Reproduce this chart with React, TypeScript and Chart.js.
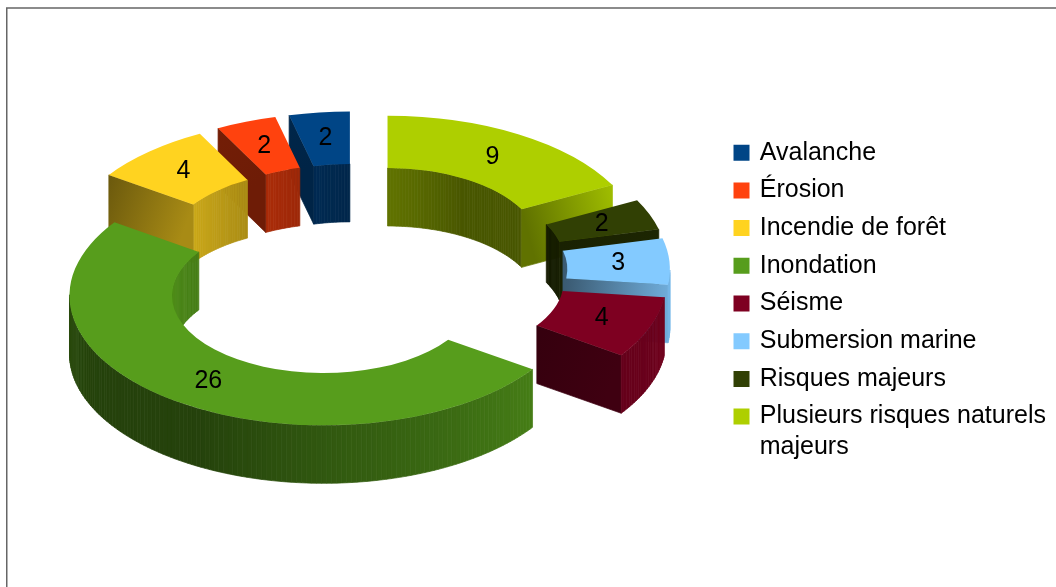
import React, { useEffect, useRef } from "react";
import { Chart, registerables } from "chart.js";

Chart.register(...registerables);

const categories: (string | string[])[] = [
  "Avalanche",
  "Érosion",
  "Incendie de forêt",
  "Inondation",
  "Séisme",
  "Submersion marine",
  "Risques majeurs",
  ["Plusieurs risques naturels", "majeurs"],
];
const values = [2, 2, 4, 26, 4, 3, 2, 9];
const colors = ["#004586", "#ff420e", "#ffd320", "#579d1c", "#7e0021", "#83caff", "#314004", "#aecf00"];
// brightness of the radial end face of each slice, at its inner and its outer end
const capInner = [0.52, 0.43, 0.66, 0.5, 0.42, 0.45, 0.52, 0.55];
const capOuter = [0.55, 0.45, 0.42, 0.5, 0.5, 0.85, 0.6, 0.92];
// brightness of a curved wall for the direction its surface faces (degrees, canvas orientation)
const shadeAngles = [-10, 0, 35, 60, 90, 120, 150, 190];
const shadeLevels = [0.95, 0.92, 0.8, 0.68, 0.56, 0.42, 0.42, 0.5];

const CX = 357;
const CY = 271;
const SQUASH = 0.51;
const DEPTH = 58;
const EXPLODE = 59;

function shadeFor(deg: number) {
  let d = ((deg % 360) + 360) % 360;
  if (d > 190) d -= 360;
  for (let i = 1; i < shadeAngles.length; i++) {
    if (d <= shadeAngles[i]) {
      const t = (d - shadeAngles[i - 1]) / (shadeAngles[i] - shadeAngles[i - 1]);
      return shadeLevels[i - 1] + t * (shadeLevels[i] - shadeLevels[i - 1]);
    }
  }
  return shadeLevels[shadeLevels.length - 1];
}

function tint(hex: string, f: number) {
  const n = parseInt(hex.slice(1), 16);
  const r = Math.round(((n >> 16) & 255) * f);
  const g = Math.round(((n >> 8) & 255) * f);
  const b = Math.round((n & 255) * f);
  return `rgb(${r},${g},${b})`;
}

const pie3d = {
  id: "pie3d",
  beforeDraw(chart: any) {
    const { ctx } = chart;
    ctx.save();
    ctx.fillStyle = "#ffffff";
    ctx.fillRect(0, 0, chart.width, chart.height);
    ctx.strokeStyle = "#666666";
    ctx.lineWidth = 1.5;
    ctx.beginPath();
    ctx.moveTo(chart.width, 8);
    ctx.lineTo(6.75, 8);
    ctx.lineTo(6.75, chart.height);
    ctx.stroke();
    ctx.restore();
  },
  beforeDatasetsDraw(chart: any) {
    const { ctx } = chart;
    const meta = chart.getDatasetMeta(0);
    const arcs = meta.data.map((el: any, i: number) => {
      const mid = (el.startAngle + el.endAngle) / 2;
      const catIndex = values.length - 1 - i;
      return {
        el,
        mid,
        catIndex,
        ox: CX + EXPLODE * Math.cos(mid),
        oy: CY + SQUASH * EXPLODE * Math.sin(mid),
      };
    });
    const order = [...arcs].sort((a: any, b: any) => Math.sin(a.mid) - Math.sin(b.mid));

    for (const a of order) {
      const { el, catIndex, ox, oy } = a;
      const color = colors[catIndex];
      const P = (r: number, ang: number, h: number) => [
        ox + r * Math.cos(ang),
        oy + SQUASH * r * Math.sin(ang) + h,
      ];
      const quad = (pts: number[][], fill: any) => {
        ctx.beginPath();
        pts.forEach((p, k) => (k ? ctx.lineTo(p[0], p[1]) : ctx.moveTo(p[0], p[1])));
        ctx.closePath();
        ctx.fillStyle = fill;
        ctx.strokeStyle = fill;
        ctx.lineWidth = 0.7;
        ctx.fill();
        ctx.stroke();
      };
      const wall = (r: number, flip: number) => {
        const steps = Math.max(4, Math.ceil((el.endAngle - el.startAngle) / 0.02));
        for (let k = 0; k < steps; k++) {
          const a0 = el.startAngle + ((el.endAngle - el.startAngle) * k) / steps;
          const a1 = el.startAngle + ((el.endAngle - el.startAngle) * (k + 1)) / steps;
          const n = (a0 + a1) / 2 + flip;
          if (Math.sin(n) <= 0) continue;
          quad(
            [P(r, a0, 0), P(r, a1, 0), P(r, a1, DEPTH), P(r, a0, DEPTH)],
            tint(color, shadeFor((n * 180) / Math.PI))
          );
        }
      };
      const cap = (ang: number, normal: number) => {
        if (Math.sin(normal) <= 0) return;
        const i0 = P(el.innerRadius, ang, 0);
        const o0 = P(el.outerRadius, ang, 0);
        const g = ctx.createLinearGradient(i0[0], i0[1], o0[0], o0[1]);
        g.addColorStop(0, tint(color, capInner[catIndex]));
        g.addColorStop(1, tint(color, capOuter[catIndex]));
        quad([i0, o0, P(el.outerRadius, ang, DEPTH), P(el.innerRadius, ang, DEPTH)], g);
      };

      wall(el.innerRadius, Math.PI);
      cap(el.startAngle, el.startAngle - Math.PI / 2);
      cap(el.endAngle, el.endAngle + Math.PI / 2);
      wall(el.outerRadius, 0);

      ctx.save();
      ctx.translate(ox, oy);
      ctx.scale(1, SQUASH);
      ctx.translate(-el.x, -el.y);
      el.draw(ctx);
      ctx.restore();
    }

    ctx.save();
    ctx.fillStyle = "#000000";
    ctx.font = "25px 'Liberation Sans'";
    ctx.textAlign = "center";
    ctx.textBaseline = "middle";
    for (const a of arcs) {
      const r = (a.el.innerRadius + a.el.outerRadius) / 2;
      ctx.fillText(
        String(values[a.catIndex]),
        a.ox + r * Math.cos(a.mid),
        a.oy + SQUASH * r * Math.sin(a.mid)
      );
    }
    ctx.restore();
    return false;
  },
};

export default function App() {
  const ref = useRef<HTMLCanvasElement | null>(null);
  useEffect(() => {
    const chart = new Chart(ref.current as HTMLCanvasElement, {
      type: "doughnut",
      data: {
        labels: [...categories].reverse() as any,
        datasets: [
          {
            data: [...values].reverse(),
            backgroundColor: [...colors].reverse(),
            borderWidth: 0,
          },
        ],
      },
      plugins: [pie3d as any],
      options: {
        responsive: false,
        animation: false,
        events: [],
        rotation: 0,
        radius: 254,
        cutout: 137,
        layout: { padding: { top: 127.5, right: 0, left: 0, bottom: 0 } },
        plugins: {
          tooltip: { enabled: false },
          legend: {
            position: "right",
            align: "start",
            reverse: true,
            labels: {
              boxWidth: 11.5,
              boxHeight: 11.5,
              padding: 12.7,
              color: "#000000",
              font: { family: "'Liberation Sans'", size: 25, lineHeight: 31 / 25 },
              generateLabels(c: any) {
                const base = (Chart as any).overrides.doughnut.plugins.legend.labels.generateLabels(c);
                return base.map((item: any) => ({
                  ...item,
                  strokeStyle: item.fillStyle,
                  lineWidth: 4.5,
                }));
              },
            },
          },
        },
      } as any,
    });
    return () => chart.destroy();
  }, []);
  return (
    <canvas
      ref={ref}
      width={1056}
      height={587}
      style={{ position: "absolute", left: 0, top: 0, display: "block" }}
    />
  );
}
